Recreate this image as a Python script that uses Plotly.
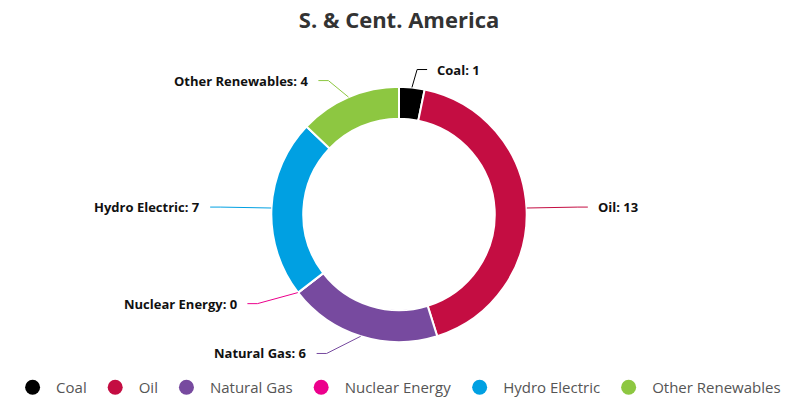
import math
import plotly.graph_objects as go

categories = ["Coal", "Oil", "Natural Gas", "Nuclear Energy", "Hydro Electric", "Other Renewables"]
values = [1, 13, 6, 0, 7, 4]
colors = ["#000000", "#C40D42", "#774A9F", "#EC008C", "#00A0E2", "#8DC741"]
title_text = "S. & Cent. America"

W, H = 800, 404
cx, cy = 399, 215          # donut centre in pixels (from top-left)
R = 128                    # donut outer radius (pixels)
RX, RY = 141, 115          # label ellipse base radii
ELBOW = 1.27
HSEG = 10
HOLE = 0.75

def px(x):
    return x / W

def py(y):
    return 1 - y / H

fig = go.Figure()

fig.add_trace(go.Pie(
    labels=categories, values=values, sort=False, direction="clockwise",
    rotation=0, hole=HOLE, textinfo="none", showlegend=False,
    marker=dict(colors=colors, line=dict(color="white", width=2)),
    domain=dict(x=[px(cx - R), px(cx + R)], y=[py(cy + R), py(cy - R)]),
))

# legend entries with round markers
for name, col in zip(categories, colors):
    fig.add_trace(go.Scatter(
        x=[None], y=[None], mode="markers", name=name,
        marker=dict(color=col, size=15, symbol="circle"),
    ))

total = sum(values)
shapes = []
annotations = []
cum = 0
for name, v, col in zip(categories, values, colors):
    mid = (cum + v / 2) / total * 2 * math.pi
    cum += v
    s, c = math.sin(mid), math.cos(mid)
    x0, y0 = cx + R * s, cy - R * c
    # labels near the bottom are pushed further sideways
    ex = ELBOW * RX * s * (1.35 if c < -0.9 else 1.0)
    x1, y1 = cx + ex, cy - ELBOW * RY * c
    side = 1 if s >= 0 else -1
    x2 = x1 + side * HSEG
    path = "M {} {} L {} {} L {} {}".format(px(x0), py(y0), px(x1), py(y1), px(x2), py(y1))
    shapes.append(dict(type="path", xref="paper", yref="paper", path=path,
                       line=dict(color=col, width=1)))
    annotations.append(dict(
        xref="paper", yref="paper", x=px(x2 + side * 8), y=py(y1),
        text="<b>{}: {}</b>".format(name, v), showarrow=False,
        xanchor="left" if side > 0 else "right", yanchor="middle",
        font=dict(family="Open Sans", size=13, color="#111111"),
    ))

fig.update_layout(
    width=W, height=H,
    margin=dict(l=0, r=0, t=0, b=0),
    paper_bgcolor="white", plot_bgcolor="white",
    title=dict(text="<b>" + title_text + "</b>", x=0.4988, xanchor="center",
               y=py(20), yanchor="middle", yref="container",
               font=dict(family="Open Sans", size=22, color="#333333")),
    xaxis=dict(visible=False), yaxis=dict(visible=False),
    legend=dict(orientation="h", x=0.497, xanchor="center", y=py(388), yanchor="middle",
                itemwidth=37,
                font=dict(family="Open Sans", size=15, color="#555555"),
                itemclick=False, itemdoubleclick=False),
    shapes=shapes, annotations=annotations,
)

fig.write_html("out.html", config={"displayModeBar": False},
               post_script="document.body.style.margin='0';")
